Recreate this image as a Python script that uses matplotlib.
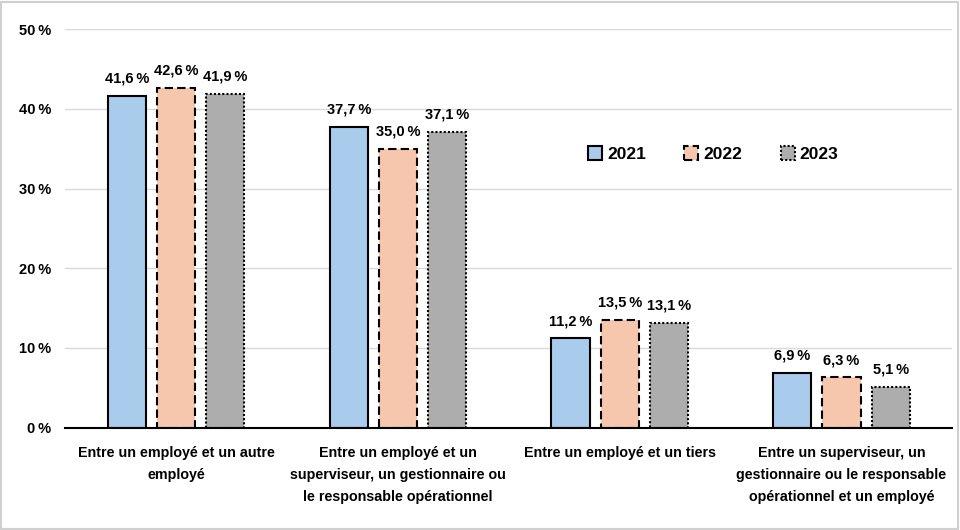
import matplotlib
matplotlib.use("Agg")
import matplotlib.pyplot as plt
from matplotlib.patches import Rectangle
import numpy as np

categories = [
    "Entre un employé et un autre\nemployé",
    "Entre un employé et un\nsuperviseur, un gestionnaire ou\nle responsable opérationnel",
    "Entre un employé et un tiers",
    "Entre un superviseur, un\ngestionnaire ou le responsable\nopérationnel et un employé",
]
years = ["2021", "2022", "2023"]
v2021 = [41.6, 37.7, 11.2, 6.9]
v2022 = [42.6, 35.0, 13.5, 6.3]
v2023 = [41.9, 37.1, 13.1, 5.1]
yticks = [0, 10, 20, 30, 40, 50]

plt.rcParams['font.family'] = ['Liberation Sans', 'DejaVu Sans']
plt.rcParams['font.weight'] = 'bold'

fig = plt.figure(figsize=(9.6, 5.3), dpi=100)
ax = fig.add_axes([0.068, 0.193, 0.924, 0.752])

colors = ["#A9CBEC", "#F6C6AD", "#ADADAD"]
styles = ["solid", (0, (4, 2)), (0, (1, 1))]
series = [v2021, v2022, v2023]
x = np.arange(len(categories))
w = 0.172
step = 0.222
for i, (vals, c, ls, yr) in enumerate(zip(series, colors, styles, years)):
    pos = x + (i - 1) * step
    ax.bar(pos, vals, width=w, color=c, edgecolor="black", linewidth=1.5,
           linestyle=ls, label=yr, zorder=3)
    for p, v in zip(pos, vals):
        ax.text(p, v + 1.3, f"{v:.1f}".replace(".", ",") + "\u2009%", ha="center", va="bottom",
                fontsize=10.5, fontweight="bold")

ax.set_xlim(-0.5, 3.5)
ax.set_ylim(0, 50)
ax.set_yticks(yticks)
ax.set_yticklabels([f"{t}\u2009%" for t in yticks], fontsize=10.5, fontweight="bold")
ax.set_xticks(x)
ax.set_xticklabels(categories, fontsize=10.3, fontweight="bold", linespacing=1.75)
ax.tick_params(axis="both", length=0, pad=10)
ax.tick_params(axis="x", pad=13)
ax.grid(axis="y", color="#D9D9D9", linewidth=1, zorder=0)
for s in ["top", "right", "left"]:
    ax.spines[s].set_visible(False)
ax.spines["bottom"].set_linewidth(1.5)
ax.spines["bottom"].set_zorder(4)

leg = ax.legend(loc="upper left", bbox_to_anchor=(0.572, 0.745), ncol=3, frameon=False,
                fontsize=12.5, handlelength=0.8, handleheight=0.8, columnspacing=2.2,
                handletextpad=0.3)
for t in leg.get_texts():
    t.set_fontweight("bold")

fig.patches.append(Rectangle((0.001, 0.002), 0.997, 0.995, transform=fig.transFigure,
                             fill=False, edgecolor="#D0D0D0", linewidth=1.5))
fig.savefig("out.png", dpi=100)
